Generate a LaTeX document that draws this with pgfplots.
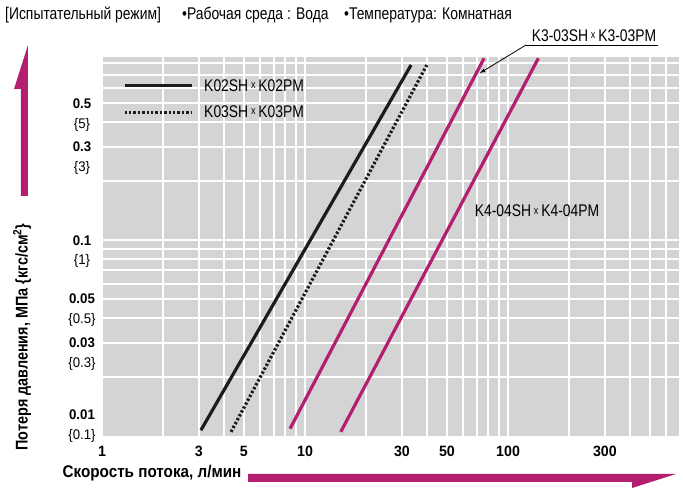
\documentclass[border=0pt]{standalone}
\usepackage{fontspec}
\setmainfont{Liberation Sans}[FakeStretch=0.82]
\newfontfamily\tickfont{Liberation Sans}[FakeStretch=0.95]
\newfontfamily\ytitlefont{Liberation Sans}[FakeStretch=0.85]
\newfontfamily\xtitlefont{Liberation Sans}[FakeStretch=0.9]
\usepackage{pgfplots}
\pgfplotsset{compat=1.18}

\definecolor{mag}{RGB}{180,30,110}
\definecolor{bg}{RGB}{212,212,212}
\definecolor{ink}{RGB}{28,28,28}

\newcommand{\X}{\,\raisebox{2.8bp}{\fontsize{11}{11}\selectfont x}\,}

\begin{document}
\begin{tikzpicture}[x=1bp,y=1bp]
\begin{axis}[
    at={(0,0)}, anchor=south west,
    scale only axis, width=579bp, height=379bp,
    xmode=log, ymode=log,
    xmin=1, xmax=711, ymin=0.01, ymax=0.86,
    axis line style={draw=none},
    major tick length=0pt, minor tick length=0pt,
    axis background/.style={fill=bg},
    grid=both,
    major grid style={white, line width=2bp},
    minor grid style={white, line width=2bp},
    xtick={1,3,5,10,30,50,100,300},
    xticklabels={1,3,5,10,30,50,100,300},
    minor xtick={2,4,6,7,8,9,20,40,60,70,80,90,200,400,500,600,700},
    xticklabel style={font=\tickfont\bfseries\fontsize{15}{17}\selectfont,
        anchor=north, inner sep=0pt, yshift=-10bp},
    ytick={0.03,0.05,0.1,0.3,0.5},
    yticklabels={
        {{\bfseries 0.03}\\\{0.3\}},
        {{\bfseries 0.05}\\\{0.5\}},
        {{\bfseries 0.1}\\\{1\}},
        {{\bfseries 0.3}\\\{3\}},
        {{\bfseries 0.5}\\\{5\}}},
    minor ytick={0.02,0.04,0.06,0.07,0.08,0.09,0.2,0.4,0.6,0.7,0.8},
    yticklabel style={font=\tickfont\fontsize{14}{20}\selectfont,
        align=center, anchor=north, inner sep=0pt, xshift=-20bp, yshift=5bp},
    extra y ticks={0.01},
    extra y tick labels={{{\bfseries 0.01}\\\{0.1\}}},
    extra y tick style={grid=none,
        yticklabel style={anchor=south, yshift=-12bp}},
    legend style={draw=none, fill=none, inner sep=0pt,
        at={(rel axis cs:0.036,0.942)}, anchor=north west,
        font=\fontsize{17}{19}\selectfont, row sep=13bp,
        nodes={inner sep=0pt},
        /tikz/every odd column/.append style={column sep=11bp}},
    legend cell align=left,
    legend image code/.code={\draw[#1] (0bp,0bp) -- (67bp,0bp);},
  ]
  \addplot[ink, line width=3.2bp] coordinates {(3.07,0.0107) (33.3,0.783)};
  \addlegendentry{K02SH\X K02PM}
  \addplot[ink, line width=3.2bp, dash pattern=on 2.4bp off 2bp]
    coordinates {(4.32,0.0105) (39.8,0.783)};
  \addlegendentry{K03SH\X K03PM}
  \addplot[mag, line width=3.2bp, forget plot]
    coordinates {(8.44,0.0109) (76.2,0.847)};
  \addplot[mag, line width=3.2bp, forget plot]
    coordinates {(15.0,0.0105) (141,0.847)};
\end{axis}

% header
\begin{scope}[every node/.style={anchor=base west, inner sep=0pt,
    font=\fontsize{17}{19}\selectfont}]
  \node at (-97,416.5) {[Испытательный режим]};
  \node at (80,416.5) {•Рабочая среда : Вода};
  \node at (242,416.5) {•Температура: Комнатная};
\end{scope}

% annotations
\node[font=\fontsize{17}{19}\selectfont, inner sep=0pt] at (492,400.5)
  {K3-03SH\X K3-03PM};
\draw[line width=0.8bp] (556,391) -- (424,391);
\draw[line width=0.8bp, -latex] (424,391) -- (378,363);
\node[font=\fontsize{17}{19}\selectfont, inner sep=0pt, fill=bg] at (435,225)
  {K4-04SH\X K4-04PM};

% axis titles with arrows
\node[rotate=90, font=\ytitlefont\bfseries\fontsize{17}{19}\selectfont, inner sep=0pt]
  at (-80,99) {Потеря давления, МПа \{кгс/см\textsuperscript{2}\}};
\fill[mag] (-74,391) -- (-74,240) -- (-81,240) -- (-81,347) -- (-88,347) -- cycle;
\node[font=\xtitlefont\bfseries\fontsize{17}{19}\selectfont, inner sep=0pt]
  at (50,-37) {Скорость потока, л/мин};
\fill[mag] (146,-38) -- (574,-38) -- (530,-52) -- (530,-46) -- (146,-46) -- cycle;

\pgfresetboundingbox
\useasboundingbox (-102,-58) rectangle (581,436);
\end{tikzpicture}
\end{document}
